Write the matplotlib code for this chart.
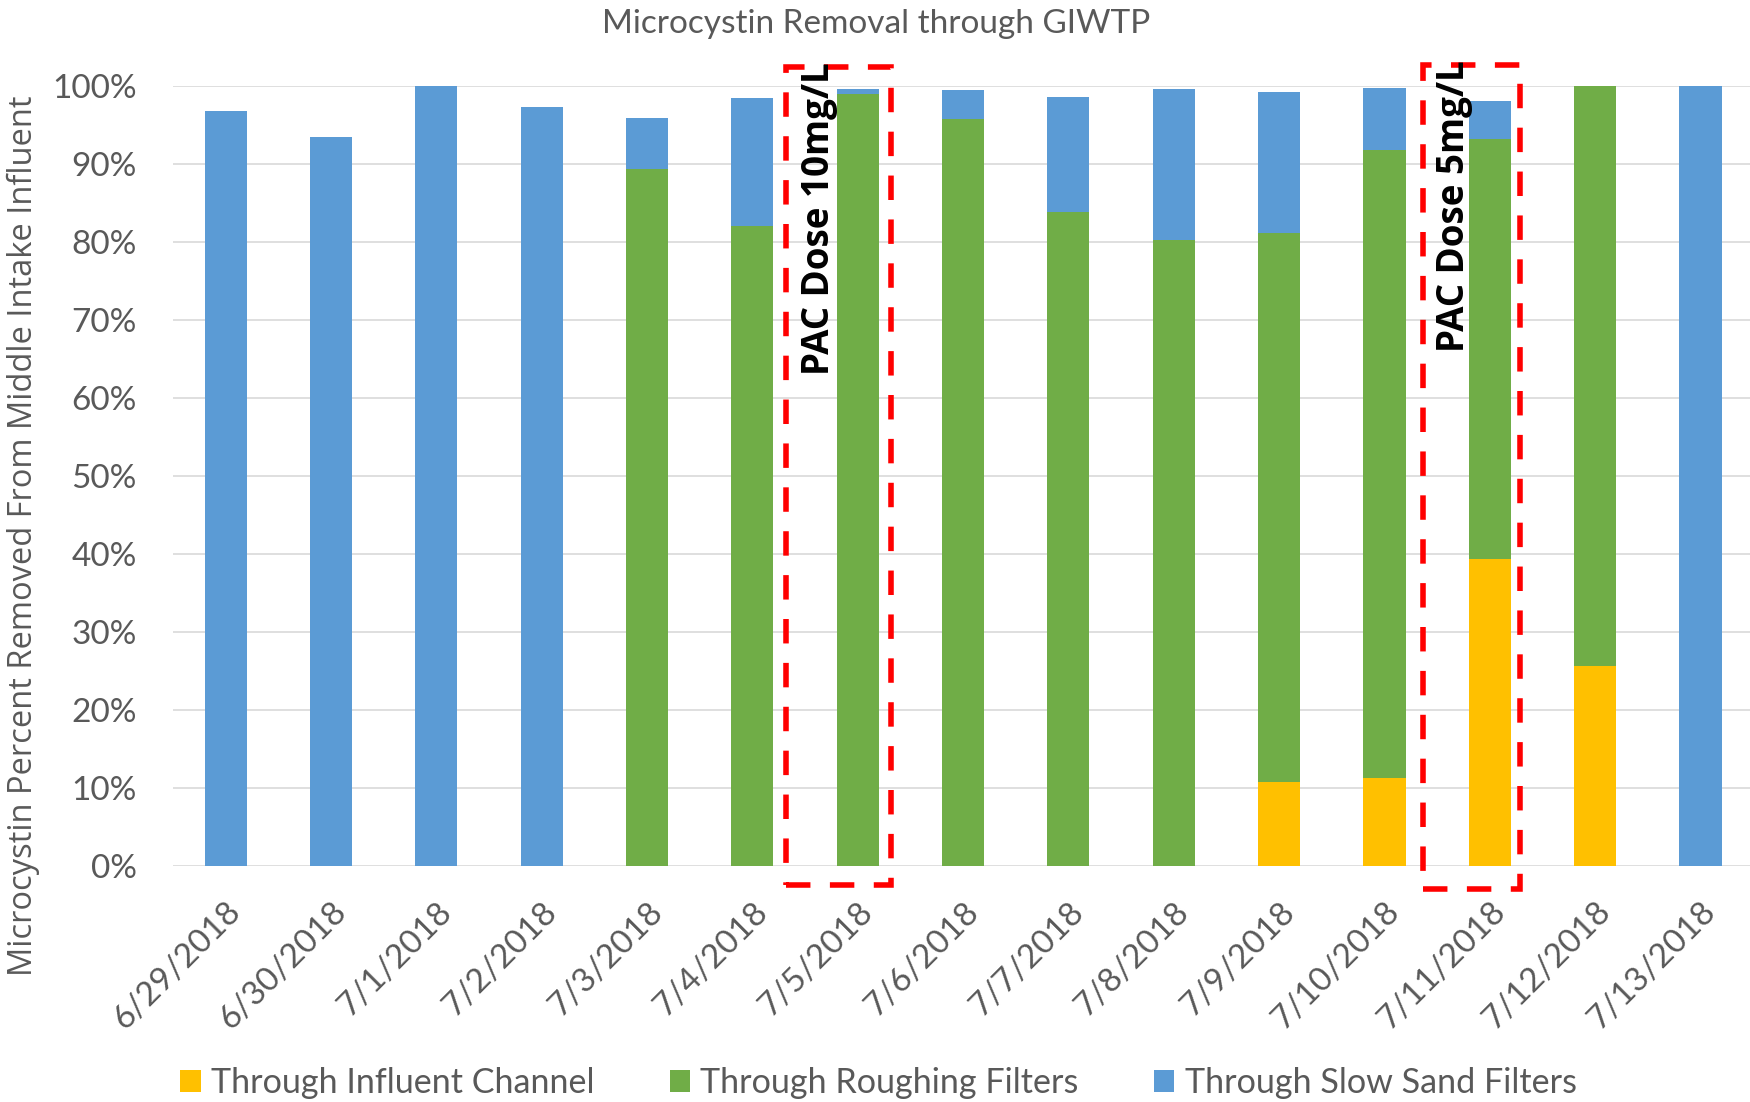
import matplotlib
matplotlib.use("Agg")
import matplotlib.pyplot as plt
from matplotlib.patches import Rectangle, Patch
import numpy as np

# sample dates and removal (percent of middle intake influent) gained at each stage
dates = ["6/29/2018", "6/30/2018", "7/1/2018", "7/2/2018", "7/3/2018",
         "7/4/2018", "7/5/2018", "7/6/2018", "7/7/2018", "7/8/2018",
         "7/9/2018", "7/10/2018", "7/11/2018", "7/12/2018", "7/13/2018"]
influent_channel = [0, 0, 0, 0, 0, 0, 0, 0, 0, 0, 10.8, 11.3, 39.3, 25.6, 0]
roughing_filters = [0, 0, 0, 0, 89.3, 82.0, 99.0, 95.8, 83.9, 80.3, 70.4, 80.45, 53.9, 74.4, 0]
slow_sand_filters = [96.75, 93.4, 100, 97.3, 6.55, 16.5, 0.6, 3.7, 14.7, 19.35, 18.0, 8.05, 4.9, 0, 100]

series_names = ["Through Influent Channel", "Through Roughing Filters", "Through Slow Sand Filters"]
series_colors = ["#FFC000", "#70AD47", "#5B9BD5"]

# PAC dosing periods: (date index, label)
pac_doses = [(6, "PAC Dose 10mg/L"), (12, "PAC Dose 5mg/L")]

GREY = "#595959"
TXT = ["Lato", "DejaVu Sans"]

fig = plt.figure(figsize=(17.5, 11.02), dpi=100)
ax = fig.add_axes([173 / 1750, 1 - 866 / 1102, 1 - 173 / 1750, (866 - 86) / 1102])

x = np.arange(len(dates))
bottom = np.zeros(len(dates))
for vals, name, col in zip([influent_channel, roughing_filters, slow_sand_filters],
                           series_names, series_colors):
    vals = np.array(vals, dtype=float)
    ax.bar(x, vals, width=0.4, bottom=bottom, color=col, label=name, zorder=2)
    bottom += vals

ax.set_xlim(-0.5, len(dates) - 0.53)
ax.set_ylim(0, 100)
ax.set_yticks(np.arange(0, 101, 10))
ax.set_yticklabels([f"{v}%" for v in range(0, 101, 10)], family=TXT, fontsize=24, color=GREY)
ax.grid(axis="y", color="#D9D9D9", linewidth=1.2, zorder=0)
ax.set_axisbelow(True)
for s in ax.spines.values():
    s.set_visible(False)
ax.tick_params(axis="y", length=0, pad=26)
ax.tick_params(axis="x", length=0, pad=22)
ax.set_xticks(x)
ax.set_xticklabels(dates, rotation=45, ha="right", va="top", rotation_mode="anchor",
                   family=TXT, fontsize=24, color=GREY)

ax.set_ylabel("Microcystin Percent Removed From Middle Intake Influent",
              family=["Open Sans", "DejaVu Sans"], fontsize=23.5, color=GREY)
ax.yaxis.set_label_coords(-133 / 1577, 0.424)

fig.text(876 / 1750, 1 - 24 / 1102, "Microcystin Removal through GIWTP",
         ha="center", va="center", family=TXT, fontsize=24, color=GREY)

# dashed boxes marking the PAC dose days
box_offsets = {6: (-0.68, 0.32, -2.4, 102.4, -0.37), 12: (-0.63, 0.29, -2.95, 102.7, -0.34)}
for idx, label in pac_doses:
    left, right, lo, hi, tx = box_offsets[idx]
    ax.add_patch(Rectangle((idx + left, lo), right - left, hi - lo, fill=False,
                           edgecolor="#FF0000", linewidth=4, linestyle=(0, (4.4, 3.5)),
                           clip_on=False, zorder=4))
    ax.text(idx + tx, hi + 0.6, label, rotation=90, ha="center", va="top",
            family=["Open Sans", "DejaVu Sans"], fontweight="bold", fontsize=26.5,
            color="black", zorder=5)

handles = [Patch(facecolor=c) for c in series_colors]
leg = fig.legend(handles, series_names, loc="center", bbox_to_anchor=(0.502, 0.017),
                 ncol=3, frameon=False, handlelength=0.6, handleheight=0.6,
                 handletextpad=0.3, columnspacing=2.2,
                 prop={"family": TXT, "size": 24.6})
for t in leg.get_texts():
    t.set_color(GREY)

fig.savefig("out.png", dpi=100)
